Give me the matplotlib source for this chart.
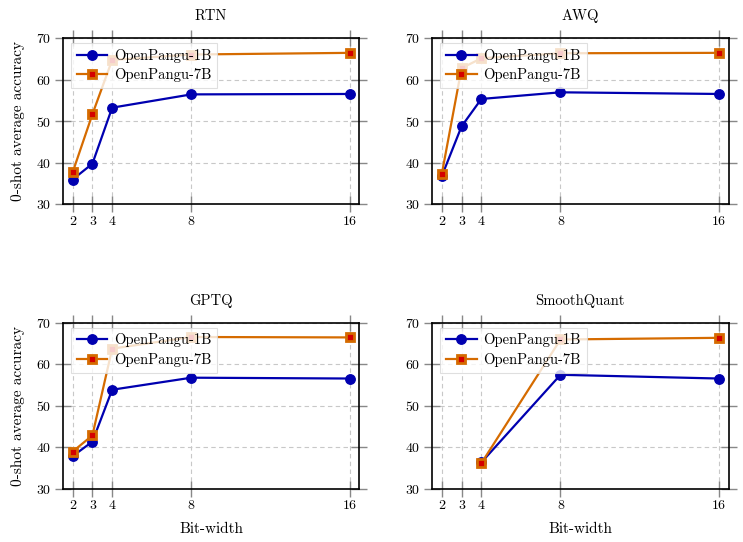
import numpy as np
import matplotlib
matplotlib.use("Agg")
import matplotlib.pyplot as plt

bits = [2, 3, 4, 8, 16]
methods = ["RTN", "AWQ", "GPTQ", "SmoothQuant"]
series_names = ["OpenPangu-1B", "OpenPangu-7B"]

rtn_1b = [36.0, 39.8, 53.3, 56.5, 56.6]
rtn_7b = [37.7, 51.7, 64.8, 66.1, 66.5]
awq_1b = [36.8, 48.8, 55.4, 57.0, 56.6]
awq_7b = [37.3, 62.8, 65.2, 66.4, 66.5]
gptq_1b = [37.9, 41.4, 53.9, 56.8, 56.6]
gptq_7b = [39.0, 42.9, 63.8, 66.6, 66.5]
sq_1b = [np.nan, np.nan, 36.4, 57.5, 56.6]
sq_7b = [np.nan, np.nan, 36.2, 66.0, 66.4]

yticks = [30, 40, 50, 60, 70]

plt.rcParams['font.family'] = ['cmr10', 'DejaVu Serif']
plt.rcParams['axes.formatter.use_mathtext'] = True
plt.rcParams['mathtext.fontset'] = 'cm'

fig, axes = plt.subplots(2, 2, figsize=(7.43, 5.42), dpi=100)
fig.subplots_adjust(left=0.0844, right=0.9807, top=0.9293, bottom=0.0978,
                    wspace=0.244, hspace=0.713)

data = {
    "RTN": (rtn_1b, rtn_7b),
    "AWQ": (awq_1b, awq_7b),
    "GPTQ": (gptq_1b, gptq_7b),
    "SmoothQuant": (sq_1b, sq_7b),
}

blue = '#0000b0'
orange = '#d56b00'
red = '#d40000'

for i, (ax, m) in enumerate(zip(axes.flat, methods)):
    y1, y7 = data[m]
    ax.plot(bits, y1, color=blue, lw=1.6, marker='o', ms=6.8,
            markerfacecolor=blue, markeredgecolor=blue, label=series_names[0], zorder=3)
    ax.plot(bits, y7, color=orange, lw=1.6, marker='s', ms=5.6,
            markerfacecolor=red, markeredgecolor=orange, markeredgewidth=2.0,
            label=series_names[1], zorder=3)
    ax.set_xlim(1.5, 16.5)
    ax.set_ylim(30, 70)
    ax.set_xticks(bits)
    ax.set_xticklabels([str(b) for b in bits])
    ax.set_yticks(yticks)
    ax.grid(True, color='#c8c8c8', linestyle=(0, (4, 3)), linewidth=0.8)
    ax.set_axisbelow(True)
    ax.tick_params(direction='inout', length=12, width=1.0, color='#888888',
                   top=True, right=True, labelsize=10, pad=2)
    for s in ax.spines.values():
        s.set_linewidth(1.2)
        s.set_color('black')
    ax.set_title(m, fontsize=10.5, pad=13)
    if i % 2 == 0:
        ax.set_ylabel("0-shot average accuracy", fontsize=11, labelpad=8)
    if i >= 2:
        ax.set_xlabel("Bit-width", fontsize=11, labelpad=7)
    leg = ax.legend(loc='upper left', fontsize=10.5, frameon=True, fancybox=False,
                    framealpha=0.8, edgecolor='#d8d8d8', handlelength=2.1,
                    borderpad=0.4, labelspacing=0.38, handletextpad=0.45,
                    borderaxespad=0, bbox_to_anchor=(0.028, 0.972))
    leg.get_frame().set_linewidth(0.8)

fig.savefig("out.png", dpi=100)
